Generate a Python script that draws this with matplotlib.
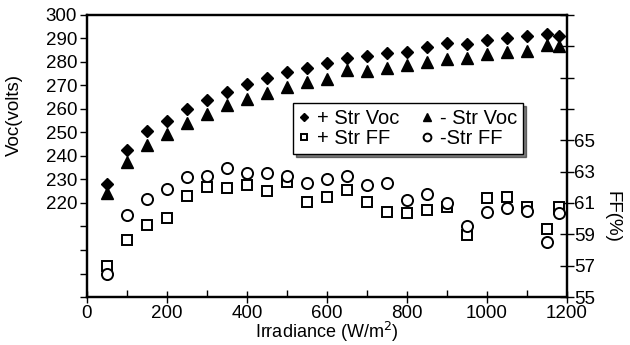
import numpy as np
import matplotlib
matplotlib.use('Agg')
import matplotlib.pyplot as plt
from matplotlib.ticker import MultipleLocator

plt.rcParams['font.family'] = ['Liberation Sans', 'DejaVu Sans']

# irradiance (W/m2)
irr = [50, 100, 150, 200, 250, 300, 350, 400, 450, 500, 550, 600,
       650, 700, 750, 800, 850, 900, 950, 1000, 1050, 1100, 1150, 1180]

# open circuit voltage (volts)
voc_pos = [228, 242.7, 250.6, 255, 259.9, 263.8, 267.4, 270.5, 273.1, 275.7, 277.2, 279.4,
           281.6, 282.3, 283.7, 284.4, 286.2, 287.9, 287.5, 289.1, 290.1, 291.1, 291.9, 290.8]
voc_neg = [224.1, 237.6, 244.7, 249.2, 253.9, 257.7, 261.6, 264.4, 266.9, 269.2, 271.4, 272.8,
           276.5, 276.2, 277.6, 278.7, 280.1, 281.3, 281.6, 283.4, 284.4, 284.8, 287.2, 286.9]

# fill factor (%)
ff_pos = [57.0, 58.64, 59.6, 60.05, 61.47, 62.03, 61.95, 62.14, 61.77, 62.35, 61.05, 61.39,
          61.82, 61.05, 60.41, 60.35, 60.56, 60.73, 58.96, 61.31, 61.41, 60.77, 59.36, 60.77]
ff_neg = [56.45, 60.22, 61.28, 61.88, 62.65, 62.75, 63.22, 62.9, 62.88, 62.73, 62.3, 62.52,
          62.69, 62.16, 62.27, 61.18, 61.56, 61.03, 59.56, 60.41, 60.67, 60.5, 58.5, 60.35]

fig = plt.figure(figsize=(6.3, 3.45), dpi=100)
ax = fig.add_axes([0.138, 0.139, 0.762, 0.818])
ax2 = ax.twinx()

h1, = ax.plot(irr, voc_pos, 'D', color='black', markersize=6.5, linestyle='none')
h2, = ax.plot(irr, voc_neg, '^', color='black', markersize=8, linestyle='none')
h3, = ax2.plot(irr, ff_pos, 's', mfc='white', mec='black', mew=1.4, markersize=6.5, linestyle='none')
h4, = ax2.plot(irr, ff_neg, 'o', mfc='white', mec='black', mew=1.4, markersize=8, linestyle='none')

ax.set_xlim(0, 1200)
ax.set_ylim(180, 300)
ax2.set_ylim(55, 73)

ax.set_xticks([0, 200, 400, 600, 800, 1000, 1200])
ax.xaxis.set_minor_locator(MultipleLocator(100))
ax.set_yticks(np.arange(180, 301, 10))
ax.set_yticklabels(['' if v < 220 else str(v) for v in range(180, 301, 10)])
ax2.set_yticks(np.arange(55, 74, 2))
ax2.set_yticklabels([str(v) if v <= 65 else '' for v in range(55, 74, 2)])

ax.tick_params(axis='x', which='major', direction='inout', length=9, width=1, labelsize=13.5, pad=1)
ax.tick_params(axis='x', which='minor', direction='in', length=5, width=1)
ax.tick_params(axis='y', direction='out', length=5, width=1, labelsize=13.5, pad=2)
ax2.tick_params(axis='y', direction='inout', length=10, width=1, labelsize=13.5, pad=0)

for a in (ax, ax2):
    for s in a.spines.values():
        s.set_linewidth(1.6)

ax.set_xlabel('Irradiance (W/m$^2$)', fontsize=13)
ax.xaxis.set_label_coords(0.5, -0.082)
ax.set_ylabel('Voc(volts)', fontsize=13.5)
ax.yaxis.set_label_coords(-0.133, 0.645)
ax2.set_ylabel('FF(%)', fontsize=13.5, rotation=-90, va='center')
ax2.yaxis.set_label_coords(1.094, 0.284)

leg = ax2.legend([h1, h3, h2, h4], ['+ Str Voc', '+ Str FF', '- Str Voc', '-Str FF'],
                 ncol=2, loc='upper left', bbox_to_anchor=(0.429, 0.688), borderaxespad=0,
                 fancybox=False, edgecolor='black', framealpha=1,
                 shadow={'color': 'black'}, fontsize=14.5,
                 handlelength=0.5, handletextpad=0.4, columnspacing=1.1,
                 borderpad=0.3, labelspacing=0.05, markerscale=0.7)
leg.get_frame().set_linewidth(1.0)

fig.savefig('out.png', dpi=100)
